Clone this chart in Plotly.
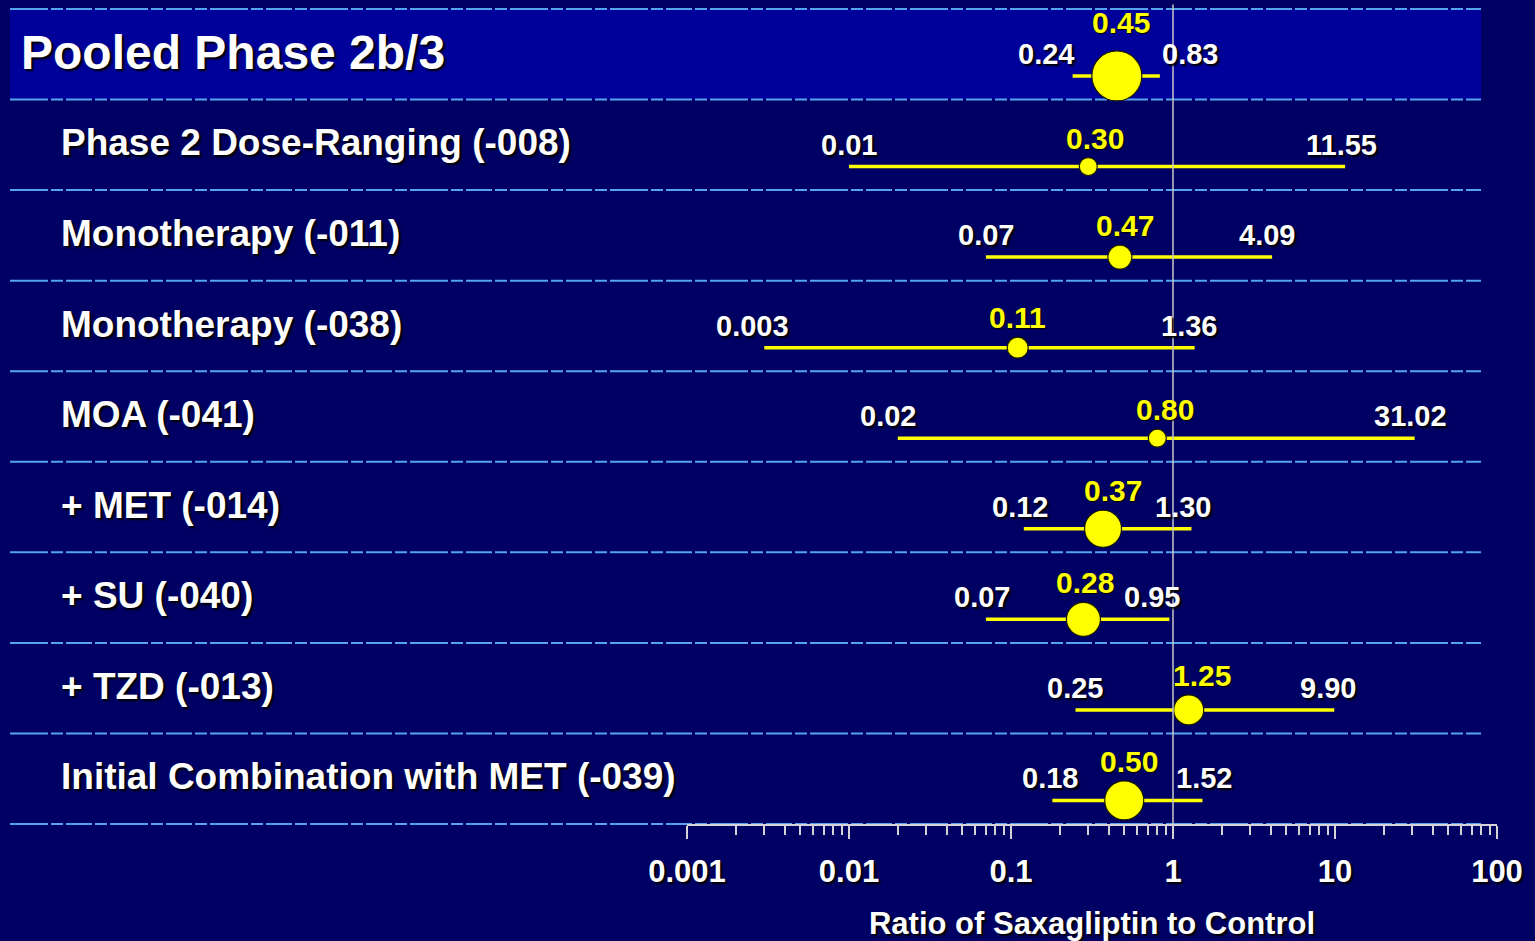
import math
import plotly.graph_objects as go

# Study rows, top to bottom
studies = [
    "Pooled Phase 2b/3",
    "Phase 2 Dose-Ranging (-008)",
    "Monotherapy (-011)",
    "Monotherapy (-038)",
    "MOA (-041)",
    "+ MET (-014)",
    "+ SU (-040)",
    "+ TZD (-013)",
    "Initial Combination with MET (-039)",
]
ratio = [0.45, 0.30, 0.47, 0.11, 0.80, 0.37, 0.28, 1.25, 0.50]
lower = [0.24, 0.01, 0.07, 0.003, 0.02, 0.12, 0.07, 0.25, 0.18]
upper = [0.83, 11.55, 4.09, 1.36, 31.02, 1.30, 0.95, 9.90, 1.52]
ratio_text = ["0.45", "0.30", "0.47", "0.11", "0.80", "0.37", "0.28", "1.25", "0.50"]
lower_text = ["0.24", "0.01", "0.07", "0.003", "0.02", "0.12", "0.07", "0.25", "0.18"]
upper_text = ["0.83", "11.55", "4.09", "1.36", "31.02", "1.30", "0.95", "9.90", "1.52"]
tick_vals = [0.001, 0.01, 0.1, 1, 10, 100]
tick_text = ["0.001", "0.01", "0.1", "1", "10", "100"]

# --- styling ---
W, H = 1535, 941
PLOT_H = 824              # height of the plotting area in px
ROW_PX = 90.56
BG = "#000064"
BAND = "#00009a"
DASH_COLOR = "#55a5ee"
AXIS_COLOR = "#d4d4d4"
YELLOW = "#ffff00"
SANS = "'Liberation Sans', Arial, sans-serif"
SHADOW = "2px 2px 2px #000000"

marker_px = [50, 18, 24, 21, 18, 37, 34, 30, 39]
ci_offset = 0.74          # vertical position of the estimate within its row
lower_anchor = ["right"] + ["center"] * 8
upper_anchor = ["left"] + ["center"] * 8
lower_dx = [3, 0, 0, -12, -10, -4, -4, 0, -2]
upper_dx = [0, -4, -5, -6, -4, -8, -17, -6, 2]
ratio_dx = [4, 7, 5, 0, 8, 10, 2, 13, 5]
ratio_dy = [10, 1, 1, 1, 1, 1, 1, 1, 1]

n = len(studies)
row_y = [i + ci_offset for i in range(n)]


def row_to_paper(k):
    """Row boundary k (0 = top) expressed as a paper fraction."""
    return (n - k) * ROW_PX / PLOT_H


fig = go.Figure()

# confidence interval bars
ci_x, ci_y = [], []
for lo, hi, y in zip(lower, upper, row_y):
    ci_x += [lo, hi, None]
    ci_y += [y, y, None]
fig.add_trace(go.Scatter(
    x=ci_x, y=ci_y, mode="lines",
    line=dict(color=YELLOW, width=3.5),
    hoverinfo="skip", showlegend=False,
))

# point estimates
fig.add_trace(go.Scatter(
    x=ratio, y=row_y, mode="markers",
    marker=dict(color=YELLOW, size=marker_px, opacity=1,
                line=dict(color="#1a1a00", width=1.2)),
    cliponaxis=False, showlegend=False,
))

# reference line at ratio = 1
fig.add_trace(go.Scatter(
    x=[1, 1], y=[-0.05, n], mode="lines",
    line=dict(color="#c8c8c8", width=1.5),
    hoverinfo="skip", showlegend=False,
))

shapes = []
# header band for the pooled row
shapes.append(dict(
    type="rect", xref="paper", yref="paper", x0=10 / W, x1=1481 / W,
    y0=row_to_paper(1), y1=row_to_paper(0),
    fillcolor=BAND, line=dict(width=0), layer="below",
))
# dashed row separators
for k in range(n + 1):
    yk = row_to_paper(k)
    shapes.append(dict(
        type="line", xref="paper", yref="paper", x0=10 / W, x1=1481 / W, y0=yk, y1=yk,
        line=dict(color=DASH_COLOR, width=2, dash="38px,3px,12px,3px,26px,3px,12px,3px"),
        layer="below",
    ))

annotations = []
for i, name in enumerate(studies):
    top = i == 0
    annotations.append(dict(
        text=name, xref="paper", yref="y",
        x=(19 if top else 59) / W, y=i + 0.48,
        xanchor="left", yanchor="middle", showarrow=False,
        font=dict(family=SANS, size=48 if top else 37, color="white",
                  weight="bold", shadow=SHADOW),
    ))
    y = row_y[i]
    # lower and upper limits
    annotations.append(dict(
        text=lower_text[i], xref="x", yref="y", x=math.log10(lower[i]), y=y,
        xanchor=lower_anchor[i], yanchor="middle", xshift=lower_dx[i], yshift=22,
        showarrow=False,
        font=dict(family=SANS, size=29, color="white", weight="bold", shadow=SHADOW),
    ))
    annotations.append(dict(
        text=upper_text[i], xref="x", yref="y", x=math.log10(upper[i]), y=y,
        xanchor=upper_anchor[i], yanchor="middle", xshift=upper_dx[i], yshift=22,
        showarrow=False,
        font=dict(family=SANS, size=29, color="white", weight="bold", shadow=SHADOW),
    ))
    # point estimate
    annotations.append(dict(
        text=ratio_text[i], xref="x", yref="y", x=math.log10(ratio[i]), y=y,
        xanchor="center", yanchor="bottom", xshift=ratio_dx[i],
        yshift=marker_px[i] / 2 + ratio_dy[i], showarrow=False,
        font=dict(family=SANS, size=30, color=YELLOW, weight="bold",
                  shadow="1px 1px 1px #000000"),
    ))

minor_vals = [m * 10 ** e for e in range(-3, 2) for m in range(2, 10)]

fig.update_layout(
    width=W, height=H, autosize=False,
    paper_bgcolor=BG, plot_bgcolor=BG,
    margin=dict(l=0, r=0, t=0, b=H - PLOT_H, autoexpand=False),
    shapes=shapes, annotations=annotations,
    showlegend=False,
    xaxis=dict(
        type="log", range=[-3, 2], domain=[687 / W, 1497 / W],
        automargin=False,
        showgrid=False, zeroline=False,
        showline=True, linecolor=AXIS_COLOR, linewidth=2,
        ticks="outside", ticklen=13, tickwidth=2, tickcolor=AXIS_COLOR,
        tickmode="array", tickvals=tick_vals, ticktext=tick_text,
        tickfont=dict(family=SANS, size=31, color="white", weight="bold", shadow=SHADOW),
        ticklabelstandoff=6,
        minor=dict(tickmode="array", tickvals=minor_vals, ticks="outside",
                   ticklen=9, tickwidth=2, tickcolor=AXIS_COLOR, showgrid=False),
        title=dict(text="Ratio of Saxagliptin to Control", standoff=24,
                   font=dict(family=SANS, size=31, color="white", weight="bold",
                             shadow=SHADOW)),
    ),
    yaxis=dict(
        range=[n, n - PLOT_H / ROW_PX], domain=[0, 1], automargin=False,
        visible=False, showgrid=False, zeroline=False,
    ),
)

fig.write_html("out.html")
